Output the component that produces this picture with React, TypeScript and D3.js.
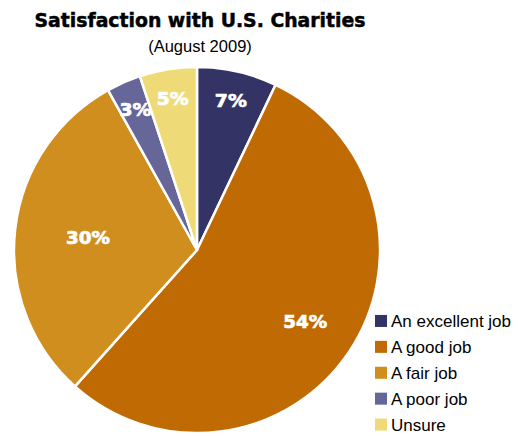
import React from "react";
import * as d3 from "d3";

const categories = ["An excellent job", "A good job", "A fair job", "A poor job", "Unsure"];
const values = [7, 54, 30, 3, 5];
const colors = ["#333366", "#C06A04", "#D08E1E", "#666699", "#EEDB77"];
const title = "Satisfaction with U.S. Charities";
const subtitle = "(August 2009)";

export default function App() {
  const W = 519, H = 436;
  const cx = 197, cy = 250, R = 183;
  const pie = d3.pie<number>().sort(null).value((d) => d);
  const arcs = pie(values);
  const arc = d3.arc<d3.PieArcDatum<number>>().innerRadius(0).outerRadius(R);
  const total = d3.sum(values);
  const labelR = (v: number) => {
    const f = v / total;
    if (f < 0.1) return R * 0.84;
    if (f > 0.5) return R * 0.71;
    return R * 0.6;
  };
  const heavy = "'Arial Black', 'DejaVu Sans', sans-serif";
  const sans = "Arial, 'Liberation Sans', sans-serif";
  const legendY = d3.scaleBand<string>().domain(categories).range([308.5, 438]);
  return (
    <svg width={W} height={H} style={{ position: "absolute", left: 0, top: 0 }}>
      <rect width={W} height={H} fill="#fff" />
      <text x={200} y={27} textAnchor="middle" fontFamily={heavy} fontWeight={900} fontSize={19.5}
        stroke="#000" strokeWidth={0.5}
        textLength={331} lengthAdjust="spacingAndGlyphs">{title}</text>
      <text x={200} y={52} textAnchor="middle" fontFamily={sans} fontSize={16.5}>{subtitle}</text>
      <g transform={`translate(${cx},${cy})`}>
        {arcs.map((a, i) => (
          <path key={i} d={arc(a) || ""} fill={colors[i]} stroke="#fff" strokeWidth={2.5} strokeLinejoin="round" />
        ))}
        {arcs.map((a, i) => {
          const mid = (a.startAngle + a.endAngle) / 2;
          const r = labelR(a.value);
          const x = r * Math.sin(mid);
          const y = -r * Math.cos(mid);
          return (
            <text key={i} x={x} y={y + 6.5} textAnchor="middle" fill="#fff" stroke="#fff" strokeWidth={0.7}
              fontFamily={heavy} fontWeight={900} fontSize={18.5} textLength={values[i] >= 10 ? 44 : 32}
              lengthAdjust="spacingAndGlyphs">{`${values[i]}%`}</text>
          );
        })}
      </g>
      <g>
        {categories.map((c, i) => {
          const y = (legendY(c) || 0) + legendY.bandwidth() / 2;
          return (
            <g key={c}>
              <rect x={375} y={y - 6.5} width={12} height={12} fill={colors[i]} />
              <text x={391} y={y + 6} fontFamily={sans} fontSize={17} fill="#000">{c}</text>
            </g>
          );
        })}
      </g>
    </svg>
  );
}
